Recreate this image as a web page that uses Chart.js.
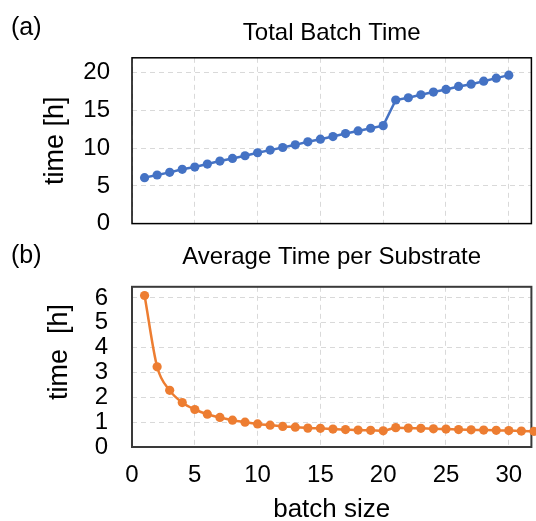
<!DOCTYPE html>
<html>
<head>
<meta charset="utf-8">
<script src="https://cdn.jsdelivr.net/npm/chart.js@4.4.1/dist/chart.umd.min.js"></script>
<style>
html, body { margin: 0; padding: 0; background: #fff; overflow: hidden; width: 536px; height: 521px; }
.box { position: absolute; left: 0; width: 536px; }
.lbl { position: absolute; font: 25px "Liberation Sans", Arial, sans-serif; color: #000; }
</style>
</head>
<body>
<div class="box" style="top:0; height:260px"><canvas id="total"></canvas></div>
<div class="box" style="top:240px; height:300px"><canvas id="avg"></canvas></div>
<div class="lbl" style="left:11px; top:12px">(a)</div>
<div class="lbl" style="left:11px; top:240px">(b)</div>
<script>
// batch size on x, times in hours
const batchSize = [1, 2, 3, 4, 5, 6, 7, 8, 9, 10, 11, 12, 13, 14, 15, 16,
  17, 18, 19, 20, 21, 22, 23, 24, 25, 26, 27, 28, 29, 30, 31, 32];
const totalTime = [6.1, 6.45, 6.8, 7.2, 7.5, 7.9, 8.3, 8.65, 9.0, 9.4, 9.75, 10.1,
  10.45, 10.85, 11.2, 11.55, 11.95, 12.3, 12.65, 13.0, 16.4, 16.7, 17.1, 17.45,
  17.8, 18.2, 18.5, 18.9, 19.3, 19.7];
const avgTime = [6.1, 3.23, 2.28, 1.79, 1.51, 1.32, 1.19, 1.08, 1.0, 0.93, 0.88, 0.83,
  0.8, 0.76, 0.75, 0.72, 0.7, 0.68, 0.67, 0.65, 0.78, 0.76, 0.75, 0.73, 0.72, 0.7,
  0.69, 0.68, 0.67, 0.66, 0.64, 0.63];
const xTicks = [0, 5, 10, 15, 20, 25, 30];
const totalTicks = [0, 5, 10, 15, 20];
const avgTicks = [0, 1, 2, 3, 4, 5, 6];

Chart.defaults.font.family = "'Liberation Sans', Arial, sans-serif";
Chart.defaults.color = '#000';

const gridOpts = { color: '#d9d9d9', lineWidth: 1, drawTicks: false };
const borderOpts = { display: false, dash: [5, 4] };

function frame(color, width) {
  return {
    id: 'frame',
    beforeDatasetsDraw(chart) {
      const { ctx, chartArea: a } = chart;
      ctx.save();
      ctx.strokeStyle = color;
      ctx.lineWidth = width;
      ctx.strokeRect(a.left, a.top, a.right - a.left, a.bottom - a.top);
      ctx.restore();
    }
  };
}

function points(ys) {
  return ys.map((y, i) => ({ x: batchSize[i], y: y }));
}

// top chart: canvas is 260 tall, the y tick padding keeps ~36px under the plot
new Chart(document.getElementById('total'), {
  type: 'line',
  data: {
    datasets: [{
      data: points(totalTime),
      borderColor: '#4472C4',
      backgroundColor: '#4472C4',
      borderWidth: 2.5,
      pointRadius: 4.6,
      pointBorderWidth: 0,
      tension: 0,
      clip: false
    }]
  },
  options: {
    responsive: true,
    maintainAspectRatio: false,
    animation: false,
    layout: { padding: { left: 0, right: 4, top: 0, bottom: 0 } },
    plugins: {
      legend: { display: false },
      tooltip: { enabled: false },
      title: {
        display: true, text: 'Total Batch Time', fullSize: false,
        font: { size: 24, weight: 'normal' }, color: '#000',
        padding: { top: 19, bottom: 10 }
      }
    },
    scales: {
      x: {
        type: 'linear', min: 0, max: 31.8,
        afterBuildTicks: s => { s.ticks = xTicks.map(v => ({ value: v })); },
        afterFit: s => { s.height = 16; },
        ticks: { display: false },
        grid: gridOpts, border: borderOpts
      },
      y: {
        min: 0, max: 22,
        afterBuildTicks: s => { s.ticks = totalTicks.map(v => ({ value: v })); },
        afterFit: s => { s.width = 132; },
        ticks: { font: { size: 24 }, padding: 22, color: '#000', autoSkip: false },
        grid: gridOpts, border: borderOpts,
        title: {
          display: true, text: 'time [h]', color: '#000',
          font: { size: 27 }, padding: { top: 39, bottom: 0 }
        }
      }
    }
  },
  plugins: [frame('#000', 1.5)]
});

// bottom chart: x tick gap comes from a tall line height, a tick padding would narrow the plot
new Chart(document.getElementById('avg'), {
  type: 'line',
  data: {
    datasets: [{
      data: points(avgTime),
      borderColor: '#ED7D31',
      backgroundColor: '#ED7D31',
      borderWidth: 2.5,
      pointRadius: 4.6,
      pointBorderWidth: 0,
      cubicInterpolationMode: 'monotone',
      clip: false
    }]
  },
  options: {
    responsive: true,
    maintainAspectRatio: false,
    animation: false,
    layout: { padding: { left: 0, right: 4, top: 0, bottom: 0 } },
    plugins: {
      legend: { display: false },
      tooltip: { enabled: false },
      title: {
        display: true, text: 'Average Time per Substrate', fullSize: false,
        font: { size: 24, weight: 'normal' }, color: '#000',
        padding: { top: 3, bottom: 15 }
      }
    },
    scales: {
      x: {
        type: 'linear', min: 0, max: 31.8,
        afterBuildTicks: s => { s.ticks = xTicks.map(v => ({ value: v })); },
        afterFit: s => { s.height = 93; },
        ticks: { font: { size: 24, lineHeight: 2.36 }, padding: 0, color: '#000', autoSkip: false, maxRotation: 0 },
        grid: gridOpts, border: borderOpts,
        title: {
          display: true, text: 'batch size', color: '#000',
          font: { size: 26 }, padding: { top: 0, bottom: 14.7 }
        }
      },
      y: {
        min: 0, max: 6.45,
        afterBuildTicks: s => { s.ticks = avgTicks.map(v => ({ value: v })); },
        afterFit: s => { s.width = 132; },
        ticks: { font: { size: 24 }, padding: 24, color: '#000', autoSkip: false },
        grid: gridOpts, border: borderOpts,
        title: {
          display: true, text: '    time  [h]', color: '#000',
          font: { size: 27 }, padding: { top: 43, bottom: 0 }
        }
      }
    }
  },
  plugins: [frame('#3a3a3a', 2)]
});
</script>
</body>
</html>
